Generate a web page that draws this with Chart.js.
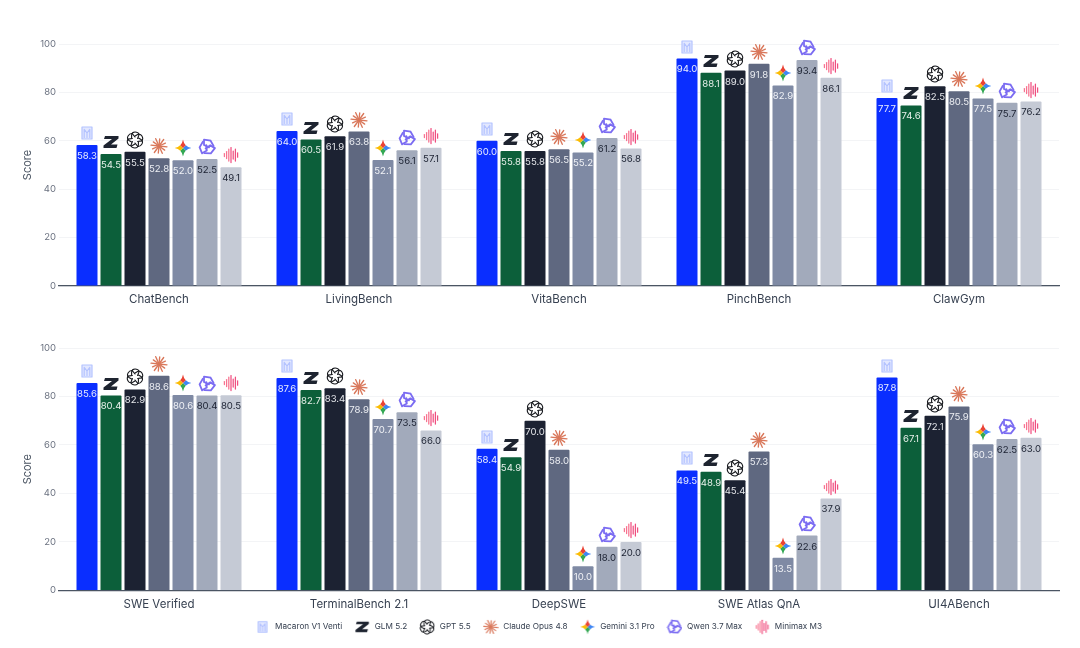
<!DOCTYPE html>
<html><head><meta charset="utf-8">
<script src="https://cdn.jsdelivr.net/npm/chart.js@4"></script>
<style>
html,body{margin:0;padding:0;background:#fff;width:1080px;height:648px;overflow:hidden}
.p{position:absolute;left:0;width:1080px}
#a{top:0;height:320px}#b{top:320px;height:328px}
</style></head><body>
<div class="p" id="a"><canvas id="c1"></canvas></div>
<div class="p" id="b"><canvas id="c2"></canvas></div>
<script>
const seriesNames=["Macaron V1 Venti","GLM 5.2","GPT 5.5","Claude Opus 4.8","Gemini 3.1 Pro","Qwen 3.7 Max","Minimax M3"];
const seriesColors=["#0a2eff","#0c5f3a","#1c2232","#5f6880","#7f8aa4","#a2aabb","#c5cad5"];
const labelColors=["#e8ecff","#e6efe9","#e4e6ea","#eceef2","#f0f2f6","#1c2232","#1c2232"];
const topCategories=["ChatBench","LivingBench","VitaBench","PinchBench","ClawGym"];
const bottomCategories=["SWE Verified","TerminalBench 2.1","DeepSWE","SWE Atlas QnA","UI4ABench"];
const macaronTop=[58.3,64.0,60.0,94.0,77.7];
const glmTop=[54.5,60.5,55.8,88.1,74.6];
const gptTop=[55.5,61.9,55.8,89.0,82.5];
const claudeTop=[52.8,63.8,56.5,91.8,80.5];
const geminiTop=[52.0,52.1,55.2,82.9,77.5];
const qwenTop=[52.5,56.1,61.2,93.4,75.7];
const minimaxTop=[49.1,57.1,56.8,86.1,76.2];
const macaronBottom=[85.6,87.6,58.4,49.5,87.8];
const glmBottom=[80.4,82.7,54.9,48.9,67.1];
const gptBottom=[82.9,83.4,70.0,45.4,72.1];
const claudeBottom=[88.6,78.9,58.0,57.3,75.9];
const geminiBottom=[80.6,70.7,10.0,13.5,60.3];
const qwenBottom=[80.4,73.5,18.0,22.6,62.5];
const minimaxBottom=[80.5,66.0,20.0,37.9,63.0];
const yTicks=[0,20,40,60,80,100];
const FONT="Inter";

function mk(s,fn){const c=document.createElement('canvas');c.width=c.height=s;const x=c.getContext('2d');x.translate(s/2,s/2);x.lineCap='round';x.lineJoin='round';x.scale(s/18,s/18);fn(x);return c;}
const drawers=[
 x=>{x.fillStyle='#e3e8ff';x.fillRect(-5,-6,10,12);x.strokeStyle='#b4c3ff';x.lineWidth=1.2;x.strokeRect(-5,-6,10,12);x.beginPath();x.moveTo(-2.8,4.5);x.lineTo(-2.8,-3.6);x.lineTo(0,0);x.lineTo(2.8,-3.6);x.lineTo(2.8,4.5);x.moveTo(0,0);x.lineTo(0,4.5);x.stroke();},
 x=>{x.fillStyle='#1e2430';x.beginPath();x.moveTo(-6,-6);x.lineTo(7.5,-6);x.lineTo(7.5,-3.4);x.lineTo(0,2.6);x.lineTo(6.5,2.6);x.lineTo(5.5,6);x.lineTo(-7.5,6);x.lineTo(-7.5,3.4);x.lineTo(1,-3);x.lineTo(-7,-3);x.closePath();x.fill();},
 x=>{x.strokeStyle='#16181d';x.lineWidth=1.1;for(let i=0;i<6;i++){x.save();x.rotate(i*Math.PI/3);x.beginPath();x.moveTo(-3.4,-2);x.lineTo(-3.4,-5);x.quadraticCurveTo(-3,-8,0,-8);x.quadraticCurveTo(3.2,-8,4.2,-5.6);x.lineTo(2.6,-1.5);x.stroke();x.restore();}},
 x=>{x.strokeStyle='#d9775a';x.lineWidth=1.35;for(let i=0;i<12;i++){const a=i*Math.PI/6+0.1,r=i%2?7:8;x.beginPath();x.moveTo(0,0);x.lineTo(Math.cos(a)*r,Math.sin(a)*r);x.stroke();}},
 x=>{x.save();x.beginPath();const R=8.4,q=1.2;x.moveTo(0,-R);x.quadraticCurveTo(q,-q,R,0);x.quadraticCurveTo(q,q,0,R);x.quadraticCurveTo(-q,q,-R,0);x.quadraticCurveTo(-q,-q,0,-R);x.closePath();x.clip();
   const cols=['#3f86f4','#34a853','#fbbc04','#ea4335'];cols.forEach((c,i)=>{x.fillStyle=c;x.beginPath();x.moveTo(0,0);x.arc(0,0,10,-Math.PI/4+i*Math.PI/2,Math.PI/4+i*Math.PI/2);x.closePath();x.fill();});x.restore();},
 x=>{x.strokeStyle='#7b6cf2';x.lineWidth=1.8;x.lineJoin='miter';for(let i=0;i<3;i++){x.save();x.rotate(i*2*Math.PI/3);x.beginPath();x.moveTo(-3,-7.4);x.lineTo(3.5,-6.5);x.lineTo(6.6,-1);x.moveTo(-3,-7.4);x.lineTo(-3,-2);x.lineTo(2,0.4);x.stroke();x.restore();}},
 x=>{const h=[1.5,3.5,6,7.5,4,6,2.2];x.lineWidth=1.25;h.forEach((v,i)=>{x.strokeStyle=i<3?'#f7728f':'#f04f80';const px=-6.6+i*2.2;x.beginPath();x.moveTo(px,-v);x.lineTo(px,v);x.stroke();});}
];
const icons=drawers.map(d=>mk(18,d));
const legendIcons=drawers.map(d=>mk(16,d));

const iconLabels={id:'iconLabels',afterDatasetsDraw(ch){const c=ch.ctx;c.save();c.textAlign='center';c.textBaseline='middle';c.font='9.6px '+FONT;
 ch.data.datasets.forEach((ds,i)=>{ch.getDatasetMeta(i).data.forEach((bar,j)=>{
  c.fillStyle=labelColors[i];c.fillText(ds.data[j].toFixed(1),bar.x,bar.y+11);
  c.drawImage(icons[i],Math.round(bar.x-9),Math.round(bar.y-21));
 });});c.restore();}};

function build(id,cats,vals,withLegend,top,bottomH){
 return new Chart(document.getElementById(id),{type:'bar',
  data:{labels:cats,datasets:seriesNames.map((n,i)=>({label:n,data:vals[i],backgroundColor:seriesColors[i],borderWidth:0,borderRadius:1,categoryPercentage:0.84,barPercentage:0.875,pointStyle:legendIcons[i]}))},
  plugins:[iconLabels],
  options:{responsive:true,maintainAspectRatio:false,animation:false,
   layout:{padding:{top:top,right:21,left:17,bottom:withLegend?7:0}},
   plugins:{tooltip:{enabled:false},
    legend:{display:withLegend,position:'bottom',labels:{usePointStyle:true,pointStyleWidth:17,boxHeight:11,padding:11.4,color:'#374151',font:{family:FONT,size:8.2}}}},
   scales:{
    x:{grid:{display:false},border:{color:'#4b5563',width:1.2},ticks:{color:'#374151',font:{family:FONT,size:11.5},padding:-1,maxRotation:0},afterFit(s){s.height=bottomH;}},
    y:{min:0,max:100,afterBuildTicks(s){s.ticks=yTicks.map(v=>({value:v}));},grid:{color:'#f3f4f6',lineWidth:1,drawTicks:false},border:{display:false},
       ticks:{color:'#6b7280',font:{family:FONT,size:9.5},padding:3},
       title:{display:true,text:'Score',color:'#4b5563',font:{family:FONT,size:11}},afterFit(s){s.width=42;}}
   }}});
}
build('c1',topCategories,[macaronTop,glmTop,gptTop,claudeTop,geminiTop,qwenTop,minimaxTop],false,44,34);
build('c2',bottomCategories,[macaronBottom,glmBottom,gptBottom,claudeBottom,geminiBottom,qwenBottom,minimaxBottom],true,28,21);
</script></body></html>
